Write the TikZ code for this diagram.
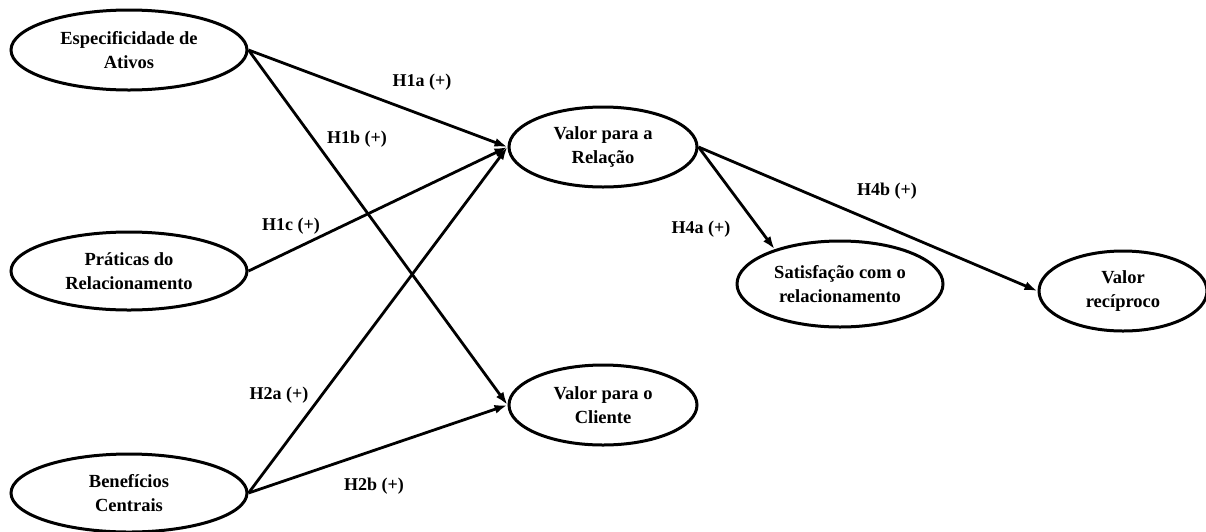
\documentclass[tikz,border=0pt]{standalone}
\usepackage{fontspec}
\setmainfont{Liberation Serif}
\usetikzlibrary{shapes.geometric,arrows.meta}
\begin{document}
\begin{tikzpicture}[x=1pt,y=-1pt,
  construct/.style={draw, ellipse, line width=3pt, inner sep=0pt,
    align=center, font=\fontsize{18.5}{24.5}\selectfont\bfseries},
  link/.style={line width=2.8pt, -{Latex[length=13pt,width=9pt]}},
  hyp/.style={font=\fontsize{18}{20}\selectfont\bfseries}]
\useasboundingbox (0,0) rectangle (1206,531);

% latent constructs
\node[construct, minimum width=236, minimum height=80] (esp) at (129,50) {Especificidade de\\Ativos};
\node[construct, minimum width=236, minimum height=78] (pra) at (129,271) {Práticas do\\Relacionamento};
\node[construct, minimum width=236, minimum height=78] (ben) at (129,493) {Benefícios\\Centrais};
\node[construct, minimum width=188, minimum height=80] (rel) at (603,147) {Valor para  a\\Relação};
\node[construct, minimum width=188, minimum height=80] (cli) at (603,405) {Valor para  o\\Cliente};
\node[construct, minimum width=206, minimum height=86] (sat) at (840,284) {Satisfação com  o\\relacionamento};
\node[construct, minimum width=168, minimum height=80] (rec) at (1123,291) {Valor\\recíproco};

% hypothesised paths
\draw[link] (esp.east) -- (rel.west);
\draw[link] (esp.east) -- (cli.west);
\draw[link] (pra.east) -- (rel.west);
\draw[link] (ben.east) -- (rel.west);
\draw[link] (ben.east) -- (cli.west);
\draw[link] (rel.east) -- (sat.152);
\draw[link] (rel.east) -- (rec.west);

% path labels
\node[hyp] (h1a) at (422,82) {H1a (+)};
\node[hyp] (h1b) at (357,139) {H1b (+)};
\node[hyp] (h1c) at (291,226) {H1c (+)};
\node[hyp] (h2a) at (279,395) {H2a (+)};
\node[hyp] (h2b) at (374,486) {H2b (+)};
\node[hyp] (h4a) at (701,229) {H4a (+)};
\node[hyp] (h4b) at (887,191) {H4b (+)};
\end{tikzpicture}
\end{document}
